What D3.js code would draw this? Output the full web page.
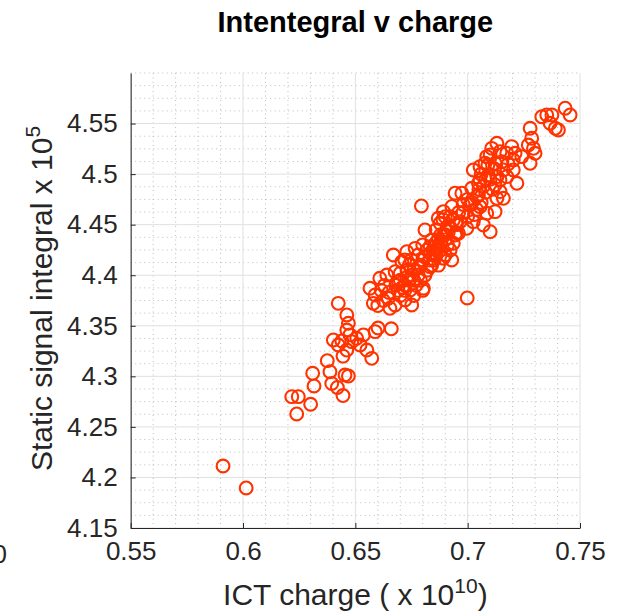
<!DOCTYPE html>
<html>
<head>
<meta charset="utf-8">
<script src="https://cdn.jsdelivr.net/npm/d3@7/dist/d3.min.js"></script>
<style>
  html, body { margin: 0; padding: 0; background: #fff; }
  svg { display: block; font-family: "Liberation Sans", Arial, Helvetica, sans-serif; }
</style>
</head>
<body>
<svg id="chart" width="633" height="612"></svg>
<script>
// ICT charge (x 1e10) vs static signal integral (x 1e5), one entry per shot
const shots = [
  [0.5911,4.2113],[0.6014,4.1896],
  [0.6217,4.2799],[0.6246,4.2799],[0.6239,4.2628],[0.6301,4.2724],
  [0.6310,4.3030],[0.6316,4.2905],[0.6375,4.3155],[0.6387,4.3046],[0.6395,4.2930],[0.6420,4.2890],
  [0.6454,4.3013],[0.6469,4.3003],[0.6445,4.2810],
  [0.6424,4.3722],[0.6462,4.3607],[0.6469,4.3525],[0.6462,4.3458],[0.6402,4.3360],[0.6424,4.3310],
  [0.6462,4.3260],[0.6484,4.3343],[0.6506,4.3376],[0.6521,4.3310],[0.6476,4.3410],[0.6536,4.3410],
  [0.6551,4.3260],[0.6573,4.3178],[0.6445,4.3200],[0.6440,4.3350],
  [0.6565,4.3871],[0.6588,4.3805],[0.6580,4.3722],[0.6588,4.3442],[0.6601,4.3478],[0.6609,4.3970],
  [0.6654,4.3673],[0.6640,4.4002],[0.6647,4.3772],[0.6615,4.3850],[0.6625,4.3750],[0.6600,4.3700],
  [0.6630,4.3900],[0.6660,4.3470],
  [0.6677,4.3706],[0.6721,4.3755],[0.6751,4.3706],[0.6744,4.3854],[0.6803,4.3871],[0.6692,4.3936],
  [0.6677,4.4035],[0.6707,4.4134],[0.6669,4.4200],[0.6729,4.4233],[0.6766,4.4266],[0.6780,4.4002],
  [0.6833,4.4085],[0.6833,4.4217],[0.6877,4.4316],[0.6833,4.4283],[0.6892,4.4168],[0.6922,4.4250],
  [0.6929,4.4151],[0.6810,4.4448],[0.6877,4.4514],[0.6900,4.4579],[0.6936,4.4547],[0.6944,4.4398],
  [0.6892,4.4398],[0.6862,4.4332],[0.6936,4.4316],[0.6907,4.4448],[0.6794,4.4685],
  [0.6700,4.3800],[0.6720,4.3900],[0.6740,4.3950],[0.6760,4.4050],[0.6790,4.4100],[0.6800,4.4150],
  [0.6740,4.4100],[0.6700,4.4020],[0.6720,4.3850],[0.6770,4.3900],[0.6810,4.4000],[0.6850,4.4150],
  [0.6820,4.4250],[0.6860,4.4250],[0.6800,4.4300],[0.6840,4.4350],[0.6880,4.4400],[0.6860,4.4450],
  [0.6900,4.4350],[0.6910,4.4300],[0.6880,4.4250],[0.6850,4.4200],[0.6750,4.4150],[0.6780,4.4200],
  [0.6700,4.3950],[0.6690,4.3850],[0.6650,4.3830],[0.6730,4.4050],[0.6760,4.3800],[0.6790,4.3950],
  [0.6820,4.4050],[0.6840,4.4100],[0.6900,4.4200],[0.6870,4.4100],[0.6950,4.4500],[0.6920,4.4480],
  [0.6890,4.4550],[0.6960,4.4620],[0.6930,4.4680],[0.6950,4.4420],[0.6998,4.3775],
  [0.6680,4.3900],[0.6710,4.3880],[0.6730,4.3980],[0.6760,4.3950],[0.6780,4.4080],[0.6810,4.4180],
  [0.6830,4.4150],[0.6860,4.4200],[0.6870,4.4350],[0.6900,4.4400],[0.6850,4.4280],[0.6720,4.4150],
  [0.6750,4.4000],[0.6800,4.3850],
  [0.6944,4.4811],[0.6974,4.4811],[0.7100,4.4431],[0.7122,4.4629],[0.7130,4.4761],[0.7077,4.5107],
  [0.7100,4.5190],[0.7144,4.4942],[0.7174,4.4975],[0.7203,4.5140],[0.7203,4.5041],[0.7025,4.5041],
  [0.7055,4.4942],[0.7048,4.4794],[0.7010,4.4695],[0.7055,4.4678],[0.7085,4.4613],[0.7025,4.4530],
  [0.7070,4.4497],[0.6996,4.4464],[0.6966,4.4530],[0.6892,4.4629],[0.6869,4.4563],[0.6922,4.4579],
  [0.6914,4.4431],[0.6959,4.4415],
  [0.7030,4.4600],[0.7060,4.4720],[0.7080,4.4820],[0.7000,4.4750],[0.6980,4.4700],[0.7040,4.4650],
  [0.7070,4.4880],[0.7100,4.4950],[0.7110,4.4850],[0.7000,4.4580],[0.6980,4.4620],
  [0.7050,4.4850],[0.7080,4.4950],[0.7020,4.4720],[0.7120,4.5050],[0.7060,4.5000],[0.7180,4.5100],
  [0.7434,4.5652],[0.7456,4.5585],[0.7330,4.5568],[0.7352,4.5585],[0.7375,4.5585],[0.7367,4.5503],
  [0.7390,4.5453],[0.7404,4.5437],[0.7278,4.5453],[0.7285,4.5354],[0.7270,4.5288],[0.7293,4.5255],
  [0.7300,4.5206],[0.7278,4.5107],[0.7196,4.5272],[0.7211,4.5206],[0.7130,4.5305],[0.7107,4.5255],
  [0.7085,4.5173],[0.7144,4.5222],[0.7174,4.5206],[0.7241,4.5173],[0.7122,4.5107],[0.7152,4.5123],
  [0.7090,4.5090],[0.7055,4.5074],[0.7159,4.5041],[0.7219,4.4909],[0.7130,4.4975],[0.7092,4.4992],
  [0.7122,4.4893],[0.7048,4.4909],[0.7018,4.4860],[0.7040,4.4777],[0.7144,4.4827],[0.7159,4.4761]
];

const xTicks = [0.55, 0.6, 0.65, 0.7, 0.75];
const xTickLabels = ["0.55", "0.6", "0.65", "0.7", "0.75"];
const yTicks = [4.15, 4.2, 4.25, 4.3, 4.35, 4.4, 4.45, 4.5, 4.55];
const yTickLabels = ["4.15", "4.2", "4.25", "4.3", "4.35", "4.4", "4.45", "4.5", "4.55"];
const xDomain = [0.55, 0.75];
const yDomain = [4.15, 4.6];

const svg = d3.select("#chart");
const plotLeft = 130.7, plotRight = 580, plotTop = 73, plotBottom = 528;

const x = d3.scaleLinear().domain(xDomain).range([plotLeft, plotRight]);
const y = d3.scaleLinear().domain(yDomain).range([plotBottom, plotTop]);

// minor grid (dotted)
const xMinor = d3.range(0, 21).map(i => xDomain[0] + i * 0.01).filter(v => !xTicks.some(t => Math.abs(t - v) < 1e-6));
const yMinor = d3.range(0, 37).map(i => yDomain[0] + i * 0.0125).filter(v => v <= yDomain[1] + 1e-9 && !yTicks.some(t => Math.abs(t - v) < 1e-6));

const grid = svg.append("g");
grid.selectAll(".xm").data(xMinor).join("line")
  .attr("x1", d => x(d)).attr("x2", d => x(d)).attr("y1", plotTop).attr("y2", plotBottom)
  .attr("stroke", "#bdbdbd").attr("stroke-width", 1).attr("stroke-dasharray", "1,3.5");
grid.selectAll(".ym").data(yMinor).join("line")
  .attr("y1", d => y(d)).attr("y2", d => y(d)).attr("x1", plotLeft).attr("x2", plotRight)
  .attr("stroke", "#bdbdbd").attr("stroke-width", 1).attr("stroke-dasharray", "1,3.5");

// major grid
grid.selectAll(".xg").data(xTicks).join("line")
  .attr("x1", d => x(d)).attr("x2", d => x(d)).attr("y1", plotTop).attr("y2", plotBottom)
  .attr("stroke", "#e0e0e0").attr("stroke-width", 1);
grid.selectAll(".yg").data(yTicks).join("line")
  .attr("y1", d => y(d)).attr("y2", d => y(d)).attr("x1", plotLeft).attr("x2", plotRight)
  .attr("stroke", "#e0e0e0").attr("stroke-width", 1);

// axes
const xAxis = d3.axisBottom(x).tickValues(xTicks)
  .tickFormat((d, i) => xTickLabels[i]).tickSizeInner(-5).tickSizeOuter(0).tickPadding(14);
const yAxis = d3.axisLeft(y).tickValues(yTicks)
  .tickFormat((d, i) => yTickLabels[i]).tickSizeInner(-5).tickSizeOuter(0).tickPadding(13);

const gx = svg.append("g").attr("transform", `translate(0,${plotBottom})`).call(xAxis);
const gy = svg.append("g").attr("transform", `translate(${plotLeft},0)`).call(yAxis);
[gx, gy].forEach(g => {
  g.select(".domain").attr("stroke", "#262626").attr("stroke-width", 1);
  g.selectAll(".tick line").attr("stroke", "#262626");
  g.selectAll(".tick text").attr("fill", "#262626").style("font-size", "26px")
    .style("font-family", "'Liberation Sans', Arial, Helvetica, sans-serif");
});
gx.selectAll(".tick text").attr("dy", "0.71em");

// neighbouring panel's clipped tick label
svg.append("text").attr("x", 7).attr("y", 563).attr("text-anchor", "end")
  .attr("fill", "#262626").style("font-size", "26px").text("0");

// markers
svg.append("g").selectAll("circle").data(shots).join("circle")
  .attr("cx", d => x(d[0])).attr("cy", d => y(d[1])).attr("r", 6.4)
  .attr("fill", "none").attr("stroke", "#ff3300").attr("stroke-width", 2.1);

// title
svg.append("text").attr("x", (plotLeft + plotRight) / 2).attr("y", 32).attr("text-anchor", "middle")
  .attr("fill", "#000").style("font-size", "29px").style("font-weight", "bold")
  .text("Intentegral v charge");

// x label
const xl = svg.append("text").attr("x", (plotLeft + plotRight) / 2).attr("y", 605).attr("text-anchor", "middle")
  .attr("fill", "#262626").style("font-size", "30px");
xl.append("tspan").text("ICT charge ( x 10");
xl.append("tspan").attr("dy", -12).style("font-size", "21px").text("10");
xl.append("tspan").attr("dy", 12).text(")");

// y label
const yl = svg.append("text").attr("transform", `translate(52,${(plotTop + plotBottom) / 2 - 2}) rotate(-90)`)
  .attr("text-anchor", "middle").attr("fill", "#262626").style("font-size", "30px");
yl.append("tspan").text("Static signal integral x 10");
yl.append("tspan").attr("dy", -12).style("font-size", "21px").text("5");
</script>
</body>
</html>
